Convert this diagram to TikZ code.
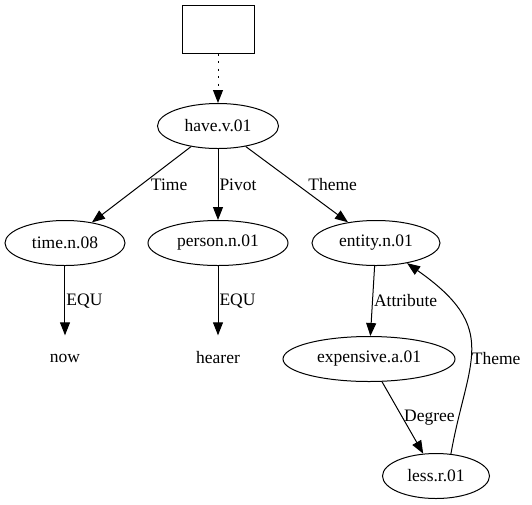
\documentclass[tikz,border=0pt]{standalone}
\usepackage{fontspec}
\setmainfont{Liberation Serif}
\usepackage{tikz}
\usetikzlibrary{shapes.geometric, positioning, arrows.meta}
\tikzset{
    link/.style={-{Triangle[length=13pt, width=10pt]}, line width=1pt}, % directed edges with filled heads
    hint/.style={dash pattern=on 2pt off 5.5pt}, % the dotted edge from the empty box
    frame/.style={draw, line width=1pt, minimum width=72pt, minimum height=48pt}, % the empty box on top
    word/.style={ellipse, draw, line width=1pt, minimum height=45pt, inner sep=0pt}, % sets the look of each sense node
    bare/.style={minimum height=45pt}, % plain text nodes, as tall as the ellipses
    lbl/.style={anchor=west, inner sep=1pt}, % text written next to an edge
}

\begin{document}
\begin{tikzpicture}[font=\fontsize{17.5}{21}\selectfont
                  ]
                  \useasboundingbox (-218pt,29pt) rectangle (314pt,-475pt);
                  \node[frame] (root) {};
                  \node[word, below of=root, node distance=97pt, minimum width=121pt] (have) {have.v.01};
                  \node[word, below of=have, node distance=117pt, minimum width=140pt] (person) {person.n.01};
                  \node[word, left of=person, node distance=153pt, minimum width=120pt] (time) {time.n.08};
                  \node[word, right of=person, node distance=158pt, minimum width=128pt] (entity) {entity.n.01};
                  \node[bare, below of=time, node distance=115pt] (now) {now};
                  \node[bare, below of=person, node distance=115pt] (hearer) {hearer};
                  \node[word, below of=entity, node distance=116pt, xshift=-7pt, minimum width=172pt] (expensive) {expensive.a.01};
                  \node[word, below of=expensive, node distance=117pt, xshift=67pt, minimum width=107pt] (less) {less.r.01};
                  \draw[link]
                  (root) edge[hint] (have)
                  (have) edge node[lbl, xshift=8pt]{Time} (time)
                  (have) edge node[lbl]{Pivot} (person)
                  (have) edge node[lbl, xshift=10pt]{Theme} (entity)
                  (time) edge node[lbl]{EQU} (now)
                  (person) edge node[lbl]{EQU} (hearer)
                  (entity) edge node[lbl]{Attribute} (expensive)
                  (expensive) edge node[lbl]{Degree} (less);
                  \draw[link] (less.56) .. controls +(80:95pt) and +(-35:115pt) .. node[lbl, pos=0.44]{Theme} (entity.-33);
              \end{tikzpicture}
\end{document}
